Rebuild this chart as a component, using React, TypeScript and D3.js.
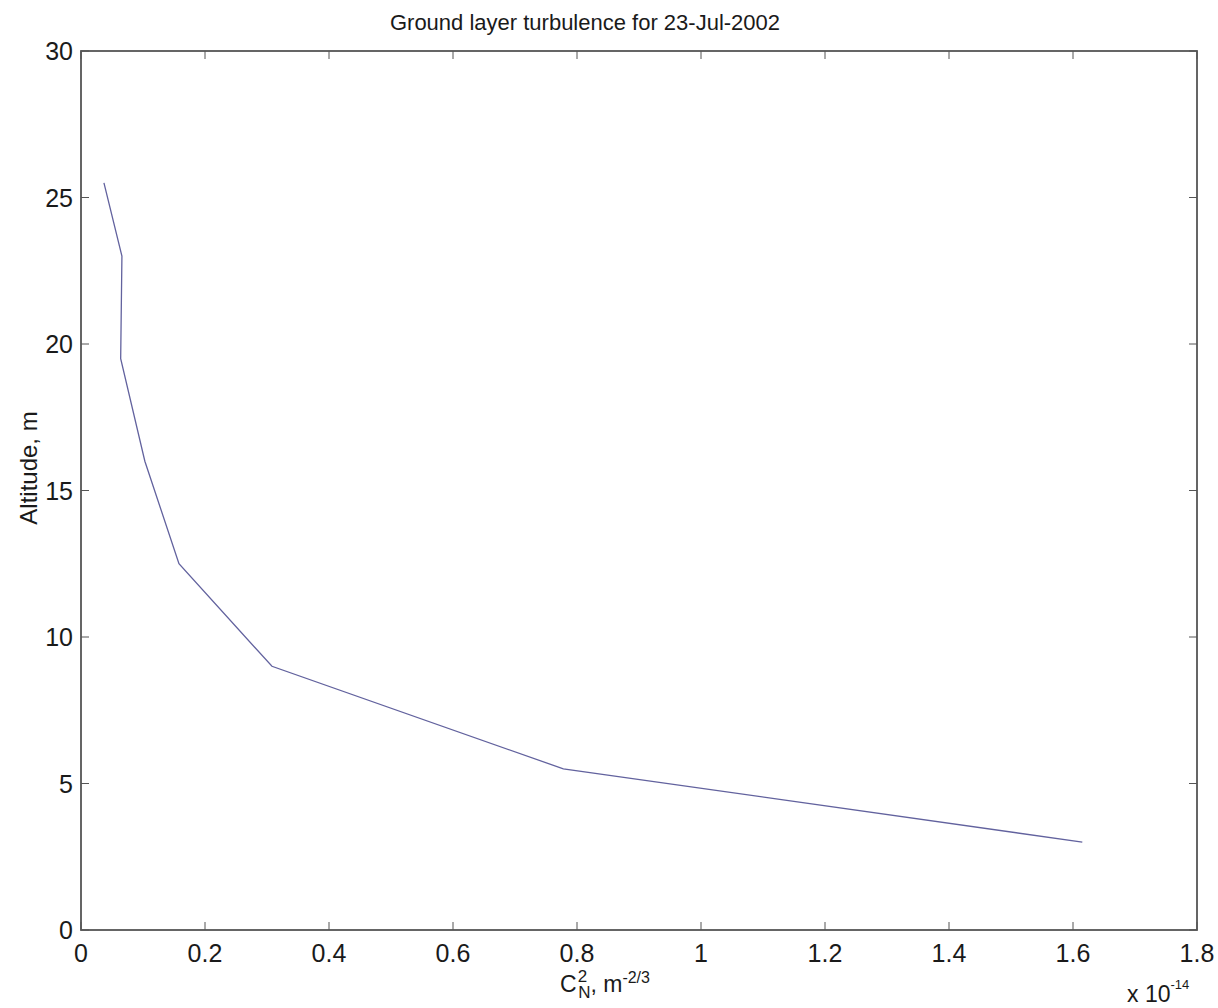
import React, { useEffect, useRef } from "react";
import * as d3 from "d3";

const cn2Values = [0.037, 0.066, 0.064, 0.103, 0.158, 0.308, 0.778, 1.615];
const altitudes = [25.5, 23.0, 19.5, 16.0, 12.5, 9.0, 5.5, 3.0];
const xTicks = [0, 0.2, 0.4, 0.6, 0.8, 1, 1.2, 1.4, 1.6, 1.8];
const yTicks = [0, 5, 10, 15, 20, 25, 30];

const W = 1218;
const H = 1008;
const M = { left: 81, right: 1197, top: 51, bottom: 930 };

export default function App() {
  const ref = useRef<SVGSVGElement>(null);
  useEffect(() => {
    const svg = d3.select(ref.current);
    svg.selectAll("*").remove();
    const x = d3.scaleLinear().domain([0, 1.8]).range([M.left, M.right]);
    const y = d3.scaleLinear().domain([0, 30]).range([M.bottom, M.top]);
    const font = "Liberation Sans, Arial, sans-serif";
    const axisColor = "#555";
    const textColor = "#1a1a1a";

    svg.append("rect").attr("width", W).attr("height", H).attr("fill", "#fff");

    const tl = 8;
    const g = svg.append("g");
    xTicks.forEach((t) => {
      const px = x(t);
      g.append("line").attr("x1", px).attr("x2", px).attr("y1", M.bottom).attr("y2", M.bottom - tl).attr("stroke", axisColor);
      g.append("line").attr("x1", px).attr("x2", px).attr("y1", M.top).attr("y2", M.top + tl).attr("stroke", axisColor);
      g.append("text").attr("x", px).attr("y", M.bottom + 32).attr("text-anchor", "middle")
        .attr("font-family", font).attr("font-size", 25).attr("fill", textColor).text(String(t));
    });
    yTicks.forEach((t) => {
      const py = y(t);
      g.append("line").attr("x1", M.left).attr("x2", M.left + tl).attr("y1", py).attr("y2", py).attr("stroke", axisColor);
      g.append("line").attr("x1", M.right).attr("x2", M.right - tl).attr("y1", py).attr("y2", py).attr("stroke", axisColor);
      g.append("text").attr("x", M.left - 8).attr("y", py + 9).attr("text-anchor", "end")
        .attr("font-family", font).attr("font-size", 25).attr("fill", textColor).text(String(t));
    });

    g.append("rect").attr("x", M.left).attr("y", M.top).attr("width", M.right - M.left).attr("height", M.bottom - M.top)
      .attr("fill", "none").attr("stroke", axisColor).attr("stroke-width", 1.8);

    const pts = cn2Values.map((v, i) => [v, altitudes[i]] as [number, number]);
    const line = d3.line<[number, number]>().x((d) => x(d[0])).y((d) => y(d[1]));
    svg.append("path").attr("d", line(pts) as string).attr("fill", "none").attr("stroke", "#62629e").attr("stroke-width", 1.3);

    svg.append("text").attr("x", 585).attr("y", 30).attr("text-anchor", "middle")
      .attr("font-family", font).attr("font-size", 22).attr("fill", textColor).text("Ground layer turbulence for 23-Jul-2002");

    svg.append("text").attr("transform", `translate(37,468) rotate(-90)`).attr("text-anchor", "middle")
      .attr("font-family", font).attr("font-size", 24).attr("fill", textColor).text("Altitude, m");

    const xl = svg.append("text").attr("x", 605).attr("y", 992).attr("text-anchor", "middle")
      .attr("font-family", font).attr("font-size", 23).attr("fill", textColor);
    xl.append("tspan").text("C");
    xl.append("tspan").attr("font-size", 17).attr("dx", 1).attr("dy", -10).text("2");
    xl.append("tspan").attr("font-size", 17).attr("dx", -9).attr("dy", 16).text("N");
    xl.append("tspan").attr("dy", -6).text(", m");
    xl.append("tspan").attr("font-size", 16).attr("dy", -9).text("-2/3");

    const ex = svg.append("text").attr("x", 1127).attr("y", 1002).attr("text-anchor", "start")
      .attr("font-family", font).attr("font-size", 23).attr("fill", textColor);
    ex.append("tspan").text("x 10");
    ex.append("tspan").attr("font-size", 13).attr("dy", -13).text("-14");
  }, []);
  return <svg ref={ref} width={W} height={H} style={{ display: "block", position: "absolute", left: 0, top: 0 }} />;
}
